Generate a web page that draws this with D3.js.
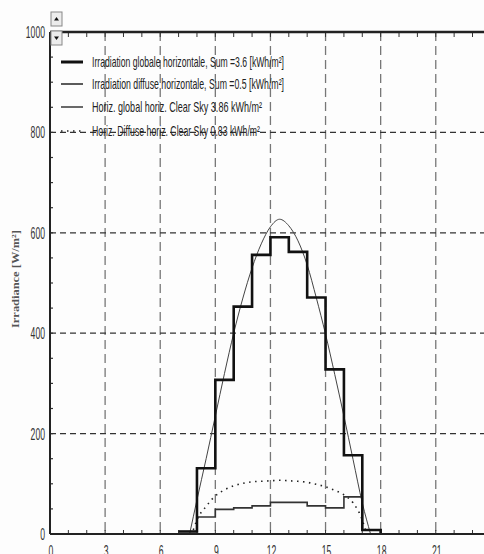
<!DOCTYPE html>
<html>
<head>
<meta charset="utf-8">
<script src="https://cdn.jsdelivr.net/npm/d3@7"></script>
<style>
body { margin: 0; background: #fff; }
svg { display: block; }
</style>
</head>
<body>
<div id="viz"></div>
<script>
// hourly measured values (step from hour to hour+1)
var hours = [7, 8, 9, 10, 11, 12, 13, 14, 15, 16, 17, 18];
var globalHoriz = [5, 131, 307, 453, 556, 591, 562, 471, 328, 157, 8, 0];
var diffuseHoriz = [5, 34, 49, 52, 56, 63, 63, 56, 52, 74, 8, 0];

// clear sky model curves
var csHours = [7.6, 8, 8.5, 9, 9.5, 10, 10.5, 11, 11.5, 12, 12.5, 13, 13.5, 14, 14.5, 15, 15.5, 16, 16.5, 17, 17.45];
var csGlobal = [0, 68, 150, 235, 320, 400, 470, 530, 578, 612, 627, 614, 584, 536, 470, 398, 318, 235, 148, 62, 0];
var csDiffHours = [7.8, 8, 8.5, 9, 9.5, 10, 10.5, 11, 11.5, 12, 12.5, 13, 13.5, 14, 14.5, 15, 15.5, 16, 16.5, 17, 17.2];
var csDiffuse = [8, 28, 55, 76, 88, 96, 101, 104, 105, 106, 107, 106, 105, 103, 99, 94, 87, 78, 62, 28, 5];

var legendLabels = [
	"Irradiation globale horizontale,  Sum =3.6 [kWh/m\u00b2]",
	"Irradiation diffuse horizontale,  Sum =0.5 [kWh/m\u00b2]",
	"Horiz. global horiz.  Clear Sky   3.86 kWh/m\u00b2",
	"Horiz. Diffuse horiz.  Clear Sky   0.83 kWh/m\u00b2"
];
var xTicks = [0, 3, 6, 9, 12, 15, 18, 21];
var yTicks = [0, 200, 400, 600, 800, 1000];

var width = 484, height = 554;
var plotLeft = 50, plotTop = 32, plotBottom = 534;
var sans = "'Liberation Sans', Arial, sans-serif";

var x = d3.scaleLinear().domain([0, 24]).range([plotLeft, plotLeft + 24 * 18.37]);
var y = d3.scaleLinear().domain([0, 1000]).range([plotBottom, plotTop]);

var svg = d3.select("#viz").append("svg")
	.attr("width", width)
	.attr("height", height);

svg.append("rect")
	.attr("width", width)
	.attr("height", height)
	.style("fill", "#fdfdfd");

// grid
svg.selectAll(".vgrid")
	.data(xTicks.filter(function(d) { return d > 0; }))
	.enter().append("line")
	.attr("x1", function(d) { return x(d); })
	.attr("x2", function(d) { return x(d); })
	.attr("y1", plotTop)
	.attr("y2", plotBottom)
	.style("stroke", "#777")
	.style("stroke-width", 1.3)
	.style("stroke-dasharray", "9,5");

svg.selectAll(".hgrid")
	.data(yTicks.filter(function(d) { return d > 0 && d < 1000; }))
	.enter().append("line")
	.attr("x1", plotLeft)
	.attr("x2", width)
	.attr("y1", function(d) { return y(d); })
	.attr("y2", function(d) { return y(d); })
	.style("stroke", "#333")
	.style("stroke-width", 1.3)
	.style("stroke-dasharray", "6,4");

// minor ticks
var hourTicks = d3.range(0, 25);
svg.selectAll(".ttick")
	.data(hourTicks)
	.enter().append("line")
	.attr("x1", function(d) { return x(d); })
	.attr("x2", function(d) { return x(d); })
	.attr("y1", plotTop)
	.attr("y2", plotTop + 5)
	.style("stroke", "#333")
	.style("stroke-width", 1);

svg.selectAll(".btick")
	.data(hourTicks)
	.enter().append("line")
	.attr("x1", function(d) { return x(d); })
	.attr("x2", function(d) { return x(d); })
	.attr("y1", plotBottom)
	.attr("y2", plotBottom - 4)
	.style("stroke", "#333")
	.style("stroke-width", 1);

svg.selectAll(".ltick")
	.data(d3.range(0, 1001, 50))
	.enter().append("line")
	.attr("x1", plotLeft)
	.attr("x2", plotLeft + 3)
	.attr("y1", function(d) { return y(d); })
	.attr("y2", function(d) { return y(d); })
	.style("stroke", "#333")
	.style("stroke-width", 1.2);

// clear sky curves
var line = d3.line()
	.x(function(d) { return x(d[0]); })
	.y(function(d) { return y(d[1]); })
	.curve(d3.curveMonotoneX);

svg.append("path")
	.attr("d", line(d3.zip(csHours, csGlobal)))
	.style("fill", "none")
	.style("stroke", "#444")
	.style("stroke-width", 1);

svg.append("path")
	.attr("d", line(d3.zip(csDiffHours, csDiffuse)))
	.style("fill", "none")
	.style("stroke", "#222")
	.style("stroke-width", 1.6)
	.style("stroke-dasharray", "1.5,4.5");

// measured steps
var step = d3.line()
	.x(function(d) { return x(d[0]); })
	.y(function(d) { return y(d[1]); })
	.curve(d3.curveStepAfter);

svg.append("path")
	.attr("d", step(d3.zip(hours, diffuseHoriz)))
	.style("fill", "none")
	.style("stroke", "#333")
	.style("stroke-width", 1.6);

svg.append("path")
	.attr("d", step(d3.zip(hours, globalHoriz)))
	.style("fill", "none")
	.style("stroke", "#111")
	.style("stroke-width", 2.6);

// axes frame
svg.append("line")
	.attr("x1", plotLeft).attr("x2", width)
	.attr("y1", plotTop).attr("y2", plotTop)
	.style("stroke", "#222").style("stroke-width", 2.5);
svg.append("line")
	.attr("x1", plotLeft).attr("x2", width)
	.attr("y1", plotBottom).attr("y2", plotBottom)
	.style("stroke", "#222").style("stroke-width", 2.2);
svg.append("line")
	.attr("x1", plotLeft).attr("x2", plotLeft)
	.attr("y1", plotTop).attr("y2", plotBottom)
	.style("stroke", "#222").style("stroke-width", 2);

// tick labels (narrow, tall digits)
svg.selectAll(".ylab")
	.data(yTicks)
	.enter().append("text")
	.attr("x", plotLeft - 5)
	.attr("y", function(d) { return y(d) + 6; })
	.attr("text-anchor", "end")
	.attr("textLength", function(d) { return String(d).length * 4.8; })
	.attr("lengthAdjust", "spacingAndGlyphs")
	.style("font-family", sans)
	.style("font-size", "16px")
	.style("fill", "#333")
	.text(function(d) { return d; });

svg.selectAll(".xlab")
	.data(xTicks)
	.enter().append("text")
	.attr("x", function(d) { return x(d) + 1; })
	.attr("y", 557)
	.attr("text-anchor", "middle")
	.attr("textLength", function(d) { return String(d).length * 4.8; })
	.attr("lengthAdjust", "spacingAndGlyphs")
	.style("font-family", sans)
	.style("font-size", "16px")
	.style("fill", "#333")
	.text(function(d) { return d; });

svg.append("text")
	.attr("transform", "translate(19,279) rotate(-90)")
	.attr("text-anchor", "middle")
	.attr("textLength", 98)
	.attr("lengthAdjust", "spacingAndGlyphs")
	.style("font-family", "'Liberation Serif', 'DejaVu Serif', serif")
	.style("font-size", "11px")
	.style("font-weight", "bold")
	.style("fill", "#555")
	.text("Irradiance  [W/m\u00b2]");

// legend
var legendStyles = [
	{w: 3, dash: null, c: "#111"},
	{w: 1.6, dash: null, c: "#333"},
	{w: 1.6, dash: null, c: "#444"},
	{w: 1.6, dash: "1.5,4.5", c: "#222"}
];
var legendY = [62, 84, 107, 131];
var legendLen = [192, 192, 170, 168];

var leg = svg.selectAll(".legend")
	.data(legendLabels)
	.enter().append("g")
	.attr("transform", function(d, i) { return "translate(0," + legendY[i] + ")"; });

leg.append("line")
	.attr("x1", 61).attr("x2", 83)
	.attr("y1", 0).attr("y2", 0)
	.style("stroke", function(d, i) { return legendStyles[i].c; })
	.style("stroke-width", function(d, i) { return legendStyles[i].w; })
	.style("stroke-dasharray", function(d, i) { return legendStyles[i].dash; });

leg.append("text")
	.attr("x", 92)
	.attr("y", 5)
	.attr("textLength", function(d, i) { return legendLen[i]; })
	.attr("lengthAdjust", "spacingAndGlyphs")
	.style("font-family", sans)
	.style("font-size", "15px")
	.style("fill", "#222")
	.text(function(d) { return d; });

// spinner buttons
var spin = svg.selectAll(".spin")
	.data([{y: 12, up: true}, {y: 31, up: false}])
	.enter().append("g");

spin.append("rect")
	.attr("x", 51).attr("y", function(d) { return d.y; })
	.attr("width", 11).attr("height", 14)
	.style("fill", "#ececec")
	.style("stroke", "#888");

spin.append("path")
	.attr("d", function(d) {
		var cx = 56.5, cy = d.y + 7;
		return d.up ? "M" + (cx - 2.5) + "," + (cy + 1.5) + "L" + (cx + 2.5) + "," + (cy + 1.5) + "L" + cx + "," + (cy - 2) + "Z"
			: "M" + (cx - 2.5) + "," + (cy - 1.5) + "L" + (cx + 2.5) + "," + (cy - 1.5) + "L" + cx + "," + (cy + 2) + "Z";
	})
	.style("fill", "#111");
</script>
</body>
</html>
